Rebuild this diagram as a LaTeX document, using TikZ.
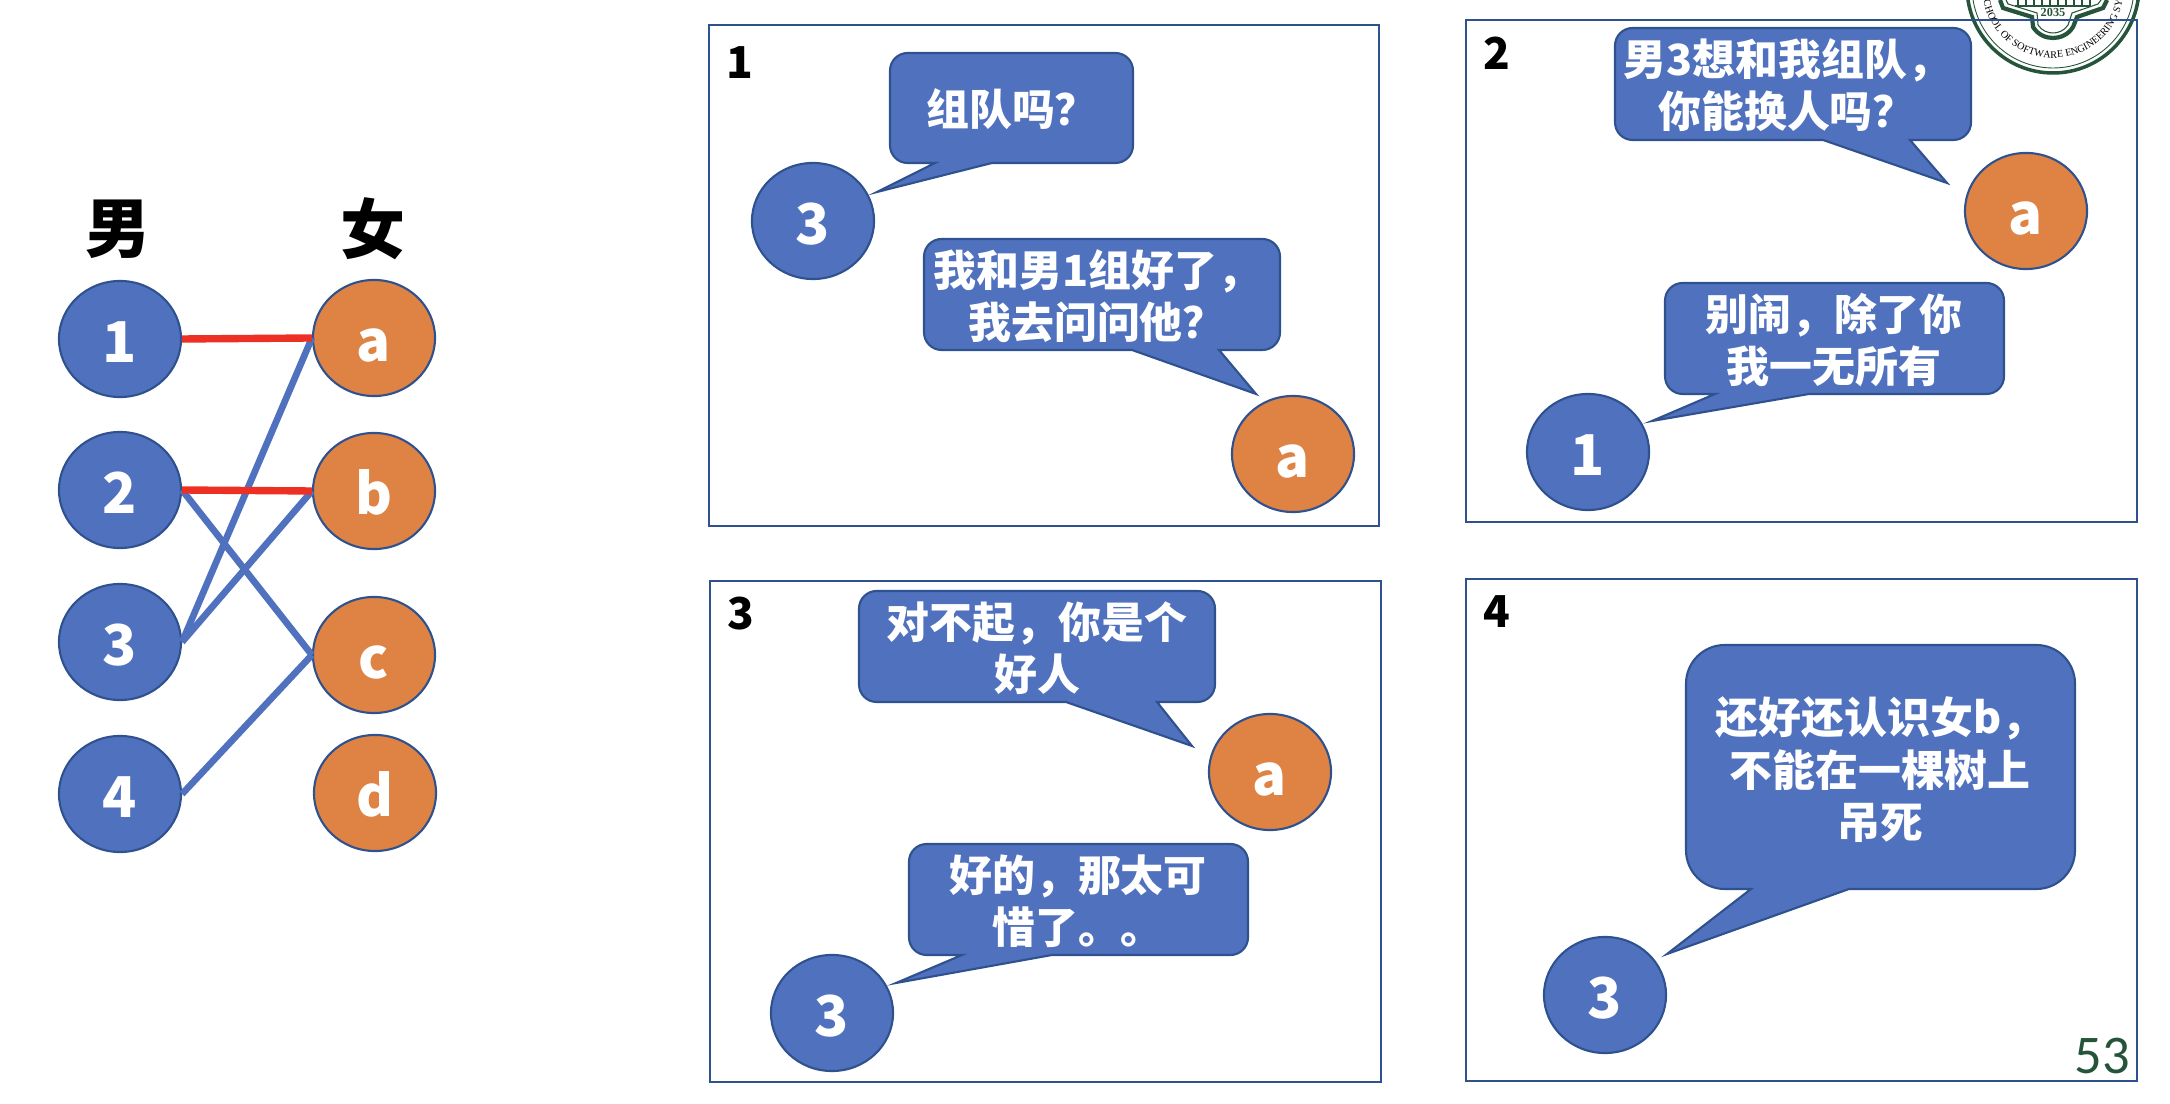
\documentclass[tikz,border=0pt]{standalone}
\usepackage{fontspec}
\setmainfont{Noto Sans CJK SC}
\newfontfamily\sealfont{Liberation Serif}
\newfontfamily\pagefont{Carlito}
\usepackage{tikz}
\usetikzlibrary{shapes.geometric, decorations.text}
\definecolor{boyblue}{RGB}{79,113,190}
\definecolor{girlorange}{RGB}{222,131,68}
\definecolor{edgeblue}{RGB}{47,82,143}
\definecolor{pairred}{RGB}{236,48,36}
\definecolor{sealgreen}{RGB}{38,84,58}
\tikzset{
  boy/.style={ellipse, draw=edgeblue, line width=0.6pt, fill=boyblue, text=white, minimum width=1.22cm, minimum height=1.16cm, inner sep=0pt, text height=13.1pt, text depth=0pt, font=\fontsize{16}{16}\selectfont\bfseries},
  girl/.style={boy, fill=girlorange},
  panel/.style={draw=edgeblue, line width=0.7pt},
  bubble/.style={draw=edgeblue, line width=0.6pt, fill=boyblue, rounded corners=5pt},
  say/.style={text=white, align=center, inner sep=0pt, font=\fontsize{12.2}{14.9}\selectfont\bfseries},
  panelnum/.style={inner sep=0pt, font=\fontsize{12.5}{13}\selectfont\bfseries},
  head/.style={inner sep=0pt, font=\fontsize{18.5}{19}\selectfont\bfseries},
  pairline/.style={pairred, line width=2.1pt},
  otherline/.style={boyblue, line width=1.9pt}
}

\begin{document}
\begin{tikzpicture}[x=0.01cm, y=-0.01cm]
  \useasboundingbox (0,0) rectangle (2170,1104);
  % seal in the corner
  \begin{scope}
    \clip (0,0) rectangle (2170,1104);
    \draw[sealgreen, line width=1pt] (2053,-13) circle (86);
    \draw[sealgreen, line width=0.25pt] (2053,-13) circle (81);
    \path[decorate, decoration={text along path, text align=center, text={|\sealfont\fontsize{2.9}{4}\selectfont|CHOOL OF SOFTWARE ENGINEERING SY}}]
      (2053,-13) ++(172:71) arc (172:8:71);
    \draw[sealgreen, line width=1.2pt] (2000,0) -- (2003,8) -- (2032,17) -- (2033,27) .. controls (2038,35) and (2046,38) .. (2053,38) .. controls (2060,38) and (2068,35) .. (2073,27) -- (2077,17) -- (2103,8) -- (2107,0);
    \draw[sealgreen, line width=0.3pt] (2006,0) -- (2008,4) -- (2037,13) -- (2038,25) .. controls (2042,31) and (2048,33) .. (2053,33) .. controls (2058,33) and (2064,31) .. (2068,25) -- (2072,13) -- (2098,4) -- (2101,0);
    \draw[sealgreen, line width=0.7pt] (2015,6) -- (2090,6);
    \foreach \x in {2018,2026,...,2090} \draw[sealgreen, line width=0.5pt] (\x,0) -- (\x,6);
    \node[sealgreen, inner sep=0pt, font=\sealfont\fontsize{3.5}{4}\selectfont\bfseries] (sealyear) at (2053,12) {2035};
  \end{scope}

  % left graph
  \node[head] (mhead) at (118,229) {男};
  \node[head] (fhead) at (373,229) {女};
  \node[boy] (m1) at (120,339) {1};
  \node[boy] (m2) at (120,490) {2};
  \node[boy] (m3) at (120,642) {3};
  \node[boy] (m4) at (120,794) {4};
  \node[girl] (f1) at (374,338) {a};
  \node[girl] (f2) at (374,491) {b};
  \node[girl] (f3) at (374,655) {c};
  \node[girl] (f4) at (375,793) {d};
  \draw[otherline] (m2.east) -- (f3.west);
  \draw[otherline] (m3.east) -- (f1.west);
  \draw[otherline] (m3.east) -- (f2.west);
  \draw[otherline] (m4.east) -- (f3.west);
  \draw[pairline] (m1.east) -- (f1.west);
  \draw[pairline] (m2.east) -- (f2.west);

  % panel 1
  \draw[panel] (709,25) rectangle (1379,526);
  \node[panelnum] (num1) at (740,63) {1};
  \draw[bubble] (890,108) -- (890,163) [sharp corners] -- (935,163) -- (877,192) -- (992,163) [rounded corners=5pt] -- (1133,163) -- (1133,53) -- (890,53) -- cycle;
  \node[say] (say1a) at (1012,109) {组队吗？};
  \node[boy] (p1m) at (813,221) {3};
  \draw[bubble] (924,295) -- (924,350) [sharp corners] -- (1132,350) -- (1256,394) -- (1219,350) [rounded corners=5pt] -- (1280,350) -- (1280,239) -- (924,239) -- cycle;
  \node[say] (say1b) at (1097,296) {我和男1组好了，\\我去问问他？};
  \node[girl] (p1f) at (1293,454) {a};

  % panel 2
  \draw[panel] (1466,20) rectangle (2137,522);
  \node[panelnum] (num2) at (1497,53) {2};
  \draw[bubble] (1615,84) -- (1615,140) [sharp corners] -- (1823,140) -- (1947,183) -- (1910,140) [rounded corners=5pt] -- (1971,140) -- (1971,28) -- (1615,28) -- cycle;
  \node[say] (say2a) at (1787,85) {男3想和我组队，\\你能换人吗？};
  \node[girl] (p2f) at (2026,211) {a};
  \draw[bubble] (1665,338) -- (1665,394) [sharp corners] -- (1715,394) -- (1652,421) -- (1809,394) [rounded corners=5pt] -- (2004,394) -- (2004,283) -- (1665,283) -- cycle;
  \node[say] (say2b) at (1834,340) {别闹，除了你\\我一无所有};
  \node[boy] (p2m) at (1588,452) {1};

  % panel 3
  \draw[panel] (710,581) rectangle (1381,1082);
  \node[panelnum] (num3) at (741,614) {3};
  \draw[bubble] (859,646) -- (859,702) [sharp corners] -- (1066,702) -- (1192,746) -- (1157,702) [rounded corners=5pt] -- (1215,702) -- (1215,591) -- (859,591) -- cycle;
  \node[say] (say3a) at (1037,648) {对不起，你是个\\好人};
  \node[girl] (p3f) at (1270,772) {a};
  \draw[bubble] (909,899) -- (909,955) [sharp corners] -- (962,955) -- (896,983) -- (1052,955) [rounded corners=5pt] -- (1248,955) -- (1248,844) -- (909,844) -- cycle;
  \node[say] (say3b) at (1078,901) {好的，那太可\\惜了。。};
  \node[boy] (p3m) at (832,1013) {3};

  % panel 4
  \draw[panel] (1466,579) rectangle (2137,1081);
  \node[panelnum] (num4) at (1497,612) {4};
  \draw[bubble, rounded corners=11pt] (1686,767) -- (1686,889) [sharp corners] -- (1751,889) -- (1667,954) -- (1849,889) [rounded corners=11pt] -- (2075,889) -- (2075,645) -- (1686,645) -- cycle;
  \node[say] (say4) at (1880,770) {还好还认识女b，\\不能在一棵树上\\吊死};
  \node[boy] (p4m) at (1605,995) {3};

  \node[sealgreen, inner sep=0pt, font=\pagefont\fontsize{15.5}{16}\selectfont] (pagenum) at (2102,1056) {53};
\end{tikzpicture}
\end{document}
